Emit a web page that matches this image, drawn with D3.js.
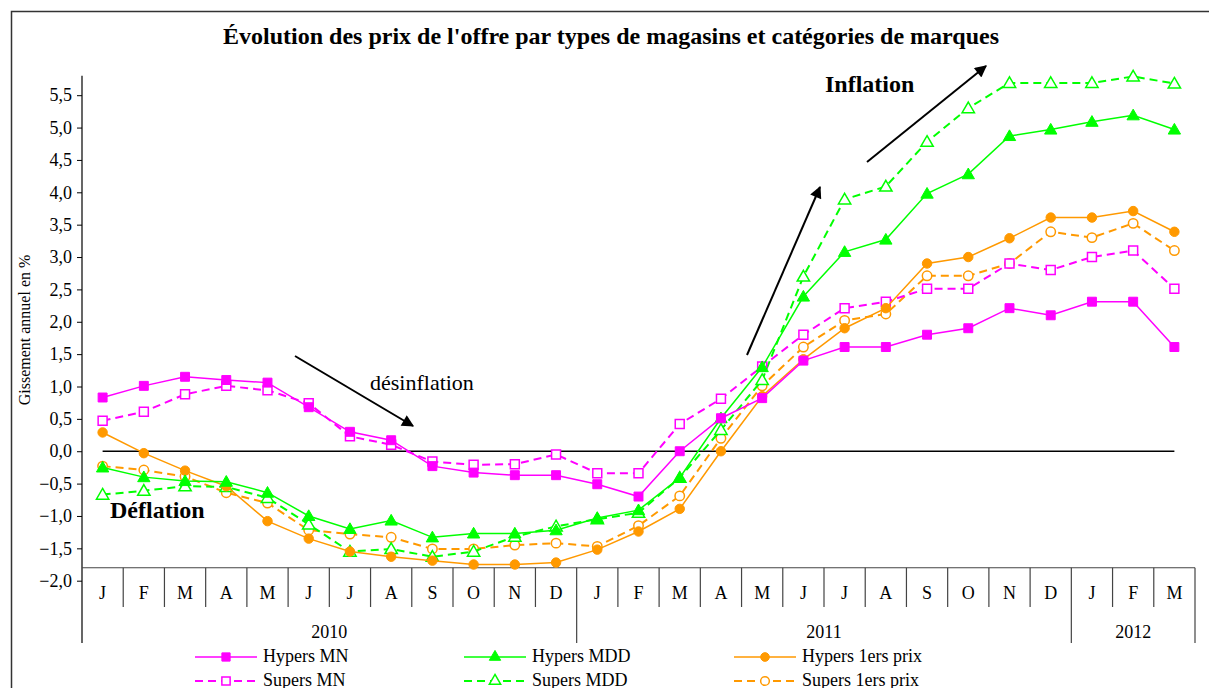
<!DOCTYPE html>
<html>
<head>
<meta charset="utf-8">
<script src="https://cdn.jsdelivr.net/npm/d3@7"></script>
<style>
  body { margin: 0; background: #fff; }
  svg { display: block; }
  svg text { font-family: "Liberation Serif", "Times New Roman", serif; }
</style>
</head>
<body>
<div id="chart"></div>
<script>
var width = 1209, height = 688;

// months Jan 2010 -> Mar 2012
var months = ["J","F","M","A","M","J","J","A","S","O","N","D",
              "J","F","M","A","M","J","J","A","S","O","N","D",
              "J","F","M"];
var years = [{label: "2010", start: 0, end: 12},
             {label: "2011", start: 12, end: 24},
             {label: "2012", start: 24, end: 27}];
var yTicks = [-2, -1.5, -1, -0.5, 0, 0.5, 1, 1.5, 2, 2.5, 3, 3.5, 4, 4.5, 5, 5.5];

var hypersMN   = [0.83,1.01,1.15,1.10,1.06,0.68,0.30,0.17,-0.23,-0.33,-0.37,-0.37,-0.51,-0.70,0.00,0.51,0.82,1.40,1.61,1.61,1.80,1.90,2.21,2.10,2.31,2.31,1.61];
var supersMN   = [0.47,0.61,0.88,1.01,0.94,0.74,0.23,0.10,-0.16,-0.21,-0.20,-0.05,-0.34,-0.34,0.42,0.81,1.31,1.80,2.21,2.31,2.51,2.51,2.90,2.80,3.00,3.10,2.51];
var hypersMDD  = [-0.25,-0.40,-0.46,-0.47,-0.64,-1.00,-1.20,-1.07,-1.33,-1.27,-1.27,-1.22,-1.03,-0.91,-0.41,0.51,1.30,2.39,3.08,3.27,3.98,4.28,4.87,4.97,5.09,5.19,4.97];
var supersMDD  = [-0.67,-0.61,-0.54,-0.55,-0.72,-1.13,-1.55,-1.51,-1.63,-1.55,-1.32,-1.16,-1.05,-0.95,-0.41,0.33,1.10,2.70,3.89,4.09,4.78,5.30,5.69,5.69,5.69,5.79,5.68];
var hypers1ers = [0.29,-0.03,-0.30,-0.54,-1.08,-1.35,-1.55,-1.63,-1.69,-1.75,-1.75,-1.72,-1.52,-1.24,-0.89,0.00,0.85,1.42,1.90,2.21,2.90,3.00,3.29,3.61,3.61,3.71,3.39];
var supers1ers = [-0.23,-0.29,-0.39,-0.64,-0.80,-1.22,-1.28,-1.33,-1.51,-1.51,-1.45,-1.42,-1.47,-1.15,-0.69,0.20,1.01,1.61,2.02,2.12,2.71,2.71,2.90,3.39,3.30,3.52,3.10];

var series = [
  {name: "Hypers MN",         values: hypersMN,   color: "#ff00ff", dash: null,  marker: "square",   filled: true},
  {name: "Hypers MDD",        values: hypersMDD,  color: "#00ff00", dash: null,  marker: "triangle", filled: true},
  {name: "Hypers 1ers prix",  values: hypers1ers, color: "#ff9900", dash: null,  marker: "circle",   filled: true},
  {name: "Supers MN",         values: supersMN,   color: "#ff00ff", dash: "8,5", marker: "square",   filled: false},
  {name: "Supers MDD",        values: supersMDD,  color: "#00ff00", dash: "8,5", marker: "triangle", filled: false},
  {name: "Supers 1ers prix",  values: supers1ers, color: "#ff9900", dash: "8,5", marker: "circle",   filled: false}
];

var svg = d3.select("#chart").append("svg")
    .attr("width", width)
    .attr("height", height);

// outer frame (runs past the picture on right/bottom)
svg.append("rect")
    .attr("x", 11.5).attr("y", 11.5)
    .attr("width", width + 20).attr("height", height + 20)
    .attr("fill", "none").attr("stroke", "#333").attr("stroke-width", 1.5);

svg.append("text")
    .attr("x", 611).attr("y", 44)
    .attr("text-anchor", "middle")
    .style("font-size", "24px").style("font-weight", "bold")
    .text("Évolution des prix de l'offre par types de magasins et catégories de marques");

var x = d3.scaleBand()
    .domain(d3.range(months.length))
    .range([82, 1195]);
var bw = x.bandwidth();
function cx(i) { return x(i) + bw / 2; }

var y = d3.scaleLinear()
    .domain([-2, 5.5])
    .range([580.7, 95.2]);

var axisBottomY = y(-1.8);

// y axis
var yAxis = d3.axisLeft(y)
    .tickValues(yTicks)
    .tickSize(5)
    .tickFormat(function(d) { return d3.format(".1f")(d).replace(".", ","); });

var gy = svg.append("g")
    .attr("transform", "translate(82,0)")
    .call(yAxis);
gy.select(".domain").remove();
gy.selectAll("text")
    .style("font-family", "'Liberation Serif', serif")
    .style("font-size", "18px")
    .attr("fill", "#000")
    .attr("x", -10);
gy.selectAll("line").attr("stroke", "#000");

svg.append("line")
    .attr("x1", 82).attr("x2", 82)
    .attr("y1", y(5.8)).attr("y2", 643)
    .attr("stroke", "#000").attr("stroke-width", 1.2);

svg.append("text")
    .attr("transform", "translate(30,330) rotate(-90)")
    .attr("text-anchor", "middle")
    .style("font-size", "16px")
    .text("Gissement annuel en %");

// category axis box
var cat = svg.append("g");
cat.append("line")
    .attr("x1", 82).attr("x2", 1195)
    .attr("y1", axisBottomY).attr("y2", axisBottomY)
    .attr("stroke", "#444").attr("stroke-width", 1.2);
cat.selectAll(".msep")
    .data(d3.range(1, months.length))
    .enter().append("line")
    .attr("x1", function(d) { return x(d); })
    .attr("x2", function(d) { return x(d); })
    .attr("y1", axisBottomY)
    .attr("y2", function(d) { return d % 12 === 0 ? 643 : 607; })
    .attr("stroke", "#444").attr("stroke-width", 1.2);
cat.append("line")
    .attr("x1", 1195).attr("x2", 1195)
    .attr("y1", axisBottomY).attr("y2", 643)
    .attr("stroke", "#444").attr("stroke-width", 1.2);
cat.selectAll(".mlab")
    .data(months)
    .enter().append("text")
    .attr("x", function(d, i) { return cx(i); })
    .attr("y", 599)
    .attr("text-anchor", "middle")
    .style("font-size", "18px")
    .text(function(d) { return d; });
cat.selectAll(".ylab")
    .data(years)
    .enter().append("text")
    .attr("x", function(d) { return (x(d.start) + (d.end < months.length ? x(d.end) : 1195)) / 2; })
    .attr("y", 638)
    .attr("text-anchor", "middle")
    .style("font-size", "18px")
    .text(function(d) { return d.label; });

// zero line
svg.append("line")
    .attr("x1", cx(0)).attr("x2", cx(months.length - 1))
    .attr("y1", y(0)).attr("y2", y(0))
    .attr("stroke", "#000").attr("stroke-width", 1.6);

// markers
var symbols = {square: d3.symbolSquare, triangle: d3.symbolTriangle, circle: d3.symbolCircle};
var sizes = {square: 80, triangle: 66, circle: 70};
function marker(sel, s, small) {
  sel.attr("d", d3.symbol().type(symbols[s.marker]).size(small ? sizes[s.marker] * 0.85 : sizes[s.marker]))
     .attr("fill", s.filled ? s.color : "#fff")
     .attr("stroke", s.color)
     .attr("stroke-width", s.filled ? 1 : 1.5);
}

var line = d3.line()
    .x(function(d, i) { return cx(i); })
    .y(function(d) { return y(d); });

var drawOrder = [5, 4, 3, 2, 1, 0];
drawOrder.forEach(function(k) {
  var s = series[k];
  var g = svg.append("g");
  g.append("path")
      .datum(s.values)
      .attr("d", line)
      .attr("fill", "none")
      .attr("stroke", s.color)
      .attr("stroke-width", s.dash ? 2 : 1.5)
      .attr("stroke-dasharray", s.dash);
  g.selectAll("path.pt")
      .data(s.values)
      .enter().append("path")
      .attr("class", "pt")
      .attr("transform", function(d, i) { return "translate(" + cx(i) + "," + (y(d) + (s.marker === "triangle" ? 1 : 0)) + ")"; })
      .call(marker, s, false);
});

// annotations
var defs = svg.append("defs");
defs.append("marker")
    .attr("id", "arrow")
    .attr("viewBox", "0 0 10 10")
    .attr("refX", 9).attr("refY", 5)
    .attr("markerWidth", 16).attr("markerHeight", 12)
    .attr("markerUnits", "userSpaceOnUse")
    .attr("orient", "auto")
    .append("path").attr("d", "M0,0 L10,5 L0,10 z").attr("fill", "#000");

var arrows = [[295, 356, 413, 426], [747, 355, 820, 187], [867, 162, 986, 66]];
svg.selectAll(".arr")
    .data(arrows)
    .enter().append("line")
    .attr("x1", function(d) { return d[0]; })
    .attr("y1", function(d) { return d[1]; })
    .attr("x2", function(d) { return d[2]; })
    .attr("y2", function(d) { return d[3]; })
    .attr("stroke", "#000").attr("stroke-width", 2)
    .attr("marker-end", "url(#arrow)");

svg.append("text").attr("x", 370).attr("y", 390)
    .style("font-size", "22px").text("désinflation");
svg.append("text").attr("x", 110).attr("y", 518)
    .style("font-size", "24px").style("font-weight", "bold").text("Déflation");
svg.append("text").attr("x", 825).attr("y", 92)
    .style("font-size", "24px").style("font-weight", "bold").text("Inflation");

// legend
var legX = [195, 464, 734], legY = [657, 681];
var leg = svg.append("g");
series.forEach(function(s, k) {
  var lx = legX[k % 3], ly = legY[Math.floor(k / 3)];
  leg.append("line")
      .attr("x1", lx).attr("x2", lx + 62)
      .attr("y1", ly).attr("y2", ly)
      .attr("stroke", s.color)
      .attr("stroke-width", s.dash ? 2 : 1.5)
      .attr("stroke-dasharray", s.dash);
  leg.append("path")
      .attr("transform", "translate(" + (lx + 31) + "," + ly + ")")
      .call(marker, s, true);
  leg.append("text")
      .attr("x", lx + 68).attr("y", ly + 5)
      .style("font-size", "18px")
      .text(s.name);
});
</script>
</body>
</html>
